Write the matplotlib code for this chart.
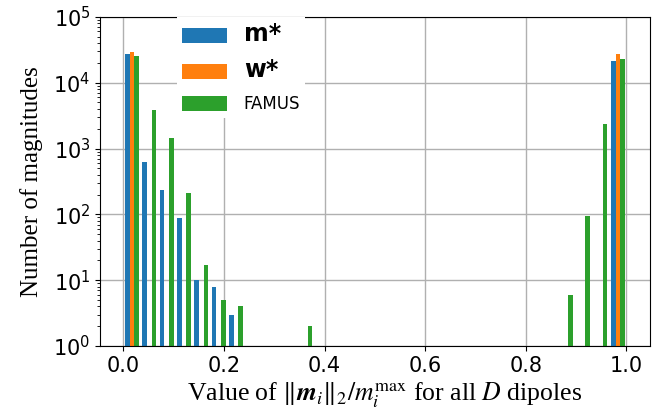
import numpy as np
import matplotlib.pyplot as plt

# 29 equal bins on [0, 1]
n_bins = 29
# counts per bin
m_counts = [27700, 635, 236, 89, 10, 8, 3, 0, 0, 0, 0, 0, 0, 0, 0,
            0, 0, 0, 0, 0, 0, 0, 0, 0, 0, 0, 0, 0, 21300]
w_counts = [29000, 0, 0, 0, 0, 0, 0, 0, 0, 0, 0, 0, 0, 0, 0,
            0, 0, 0, 0, 0, 0, 0, 0, 0, 0, 0, 0, 0, 27700]
famus_counts = [25300, 3800, 1440, 211, 17, 5, 4, 0, 0, 0, 2, 0, 0, 0, 0,
                0, 0, 0, 0, 0, 0, 0, 0, 0, 0, 6, 95, 2340, 22900]
labels = ['m*', 'w*', 'FAMUS']

edges = np.linspace(0, 1, n_bins + 1)
centers = 0.5 * (edges[:-1] + edges[1:])

fig = plt.figure(figsize=(6.63, 4.2), dpi=100)
ax = fig.add_axes([0.151, 0.176, 0.829, 0.784])

ax.hist([centers, centers, centers], bins=edges,
        weights=[m_counts, w_counts, famus_counts],
        label=labels, log=True)
ax.set_ylim(1, 1e5)
ax.set_axisbelow(True)
ax.grid(True, color='#b0b0b0', linewidth=1.0)
ax.tick_params(labelsize=15)

ax.set_xlabel(r'Value of $\|\mathbfit{m}_i\|_2/m_i^{\max}$ for all $D$ dipoles',
              family='Liberation Serif', fontsize=18.5, math_fontfamily='stix',
              labelpad=3)
ax.xaxis.label.set_x(0.518)
ax.set_ylabel('Number of magnitudes', family='Liberation Serif', fontsize=18,
              labelpad=7)

leg = ax.legend(loc='upper left', bbox_to_anchor=(0.14, 1.0), borderaxespad=0,
                fontsize=12, handlelength=2.7, handleheight=1.0,
                handletextpad=1.0, labelspacing=0.75, borderpad=0.3,
                framealpha=1.0, edgecolor='none', fancybox=False)
for t in leg.get_texts()[:2]:
    t.set_fontsize(17)
    t.set_fontweight('bold')

fig.savefig('out.png', dpi=100)
